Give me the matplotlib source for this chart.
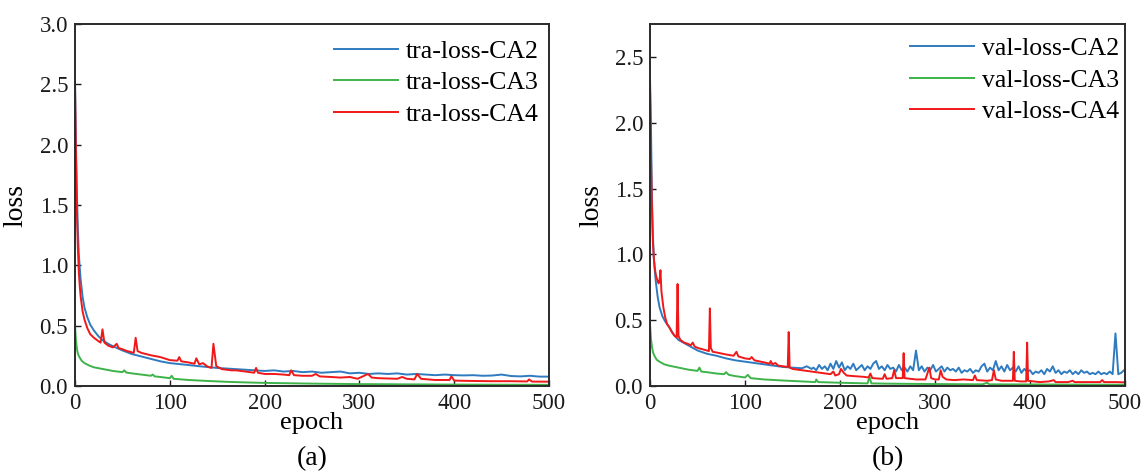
import numpy as np
import matplotlib
matplotlib.use("Agg")
import matplotlib.pyplot as plt

plt.rcParams['font.family'] = ['Liberation Serif', 'DejaVu Serif']

# ---------------- data ----------------
# (a) training loss
tra_ca2_ep = [0, 1, 2, 3, 4, 5, 6, 8, 10, 13, 16, 20, 25, 30, 35, 40, 50, 60, 70, 80, 90, 100,
              115, 130, 150, 170, 190, 200, 210, 220, 230, 240, 250, 260, 270, 280, 290, 300,
              310, 320, 330, 340, 350, 360, 370, 380, 390, 400, 410, 420, 430, 440, 450, 460,
              470, 480, 490, 500]
tra_ca2 = [2.55, 2.0, 1.6, 1.3, 1.1, 0.98, 0.88, 0.74, 0.65, 0.57, 0.51, 0.46, 0.41, 0.375, 0.35,
           0.33, 0.295, 0.265, 0.245, 0.225, 0.205, 0.19, 0.178, 0.165, 0.15, 0.14, 0.13, 0.125,
           0.13, 0.12, 0.125, 0.115, 0.12, 0.11, 0.115, 0.12, 0.105, 0.11, 0.10, 0.105, 0.10,
           0.105, 0.095, 0.10, 0.095, 0.09, 0.095, 0.09, 0.088, 0.09, 0.085, 0.087, 0.095, 0.083,
           0.08, 0.085, 0.078, 0.078]

tra_ca3_ep = [0, 1, 2, 3, 4, 5, 7, 10, 15, 20, 30, 40, 50, 52, 54, 60, 70, 80, 82, 84, 90, 100,
              102, 104, 120, 140, 160, 180, 200, 250, 300, 350, 400, 450, 500]
tra_ca3 = [0.50, 0.38, 0.31, 0.27, 0.25, 0.235, 0.21, 0.19, 0.17, 0.155, 0.14, 0.125, 0.115, 0.13,
           0.112, 0.105, 0.095, 0.085, 0.095, 0.08, 0.075, 0.065, 0.085, 0.06, 0.05, 0.042,
           0.035, 0.03, 0.026, 0.02, 0.016, 0.014, 0.012, 0.011, 0.01]

tra_ca4_ep = [0, 1, 2, 3, 4, 5, 6, 8, 10, 13, 16, 20, 25, 27, 29, 31, 35, 40, 44, 46, 50, 55, 62,
              64, 66, 70, 80, 90, 100, 108, 110, 112, 120, 126, 128, 131, 135, 140, 144, 146, 149,
              155, 165, 170, 180, 189, 191, 193, 200, 210, 220, 226, 228, 231, 240, 250, 254, 258,
              270, 280, 290, 298, 305, 309, 313, 320, 340, 345, 350, 358, 361, 365, 380, 395, 397,
              400, 420, 440, 460, 477, 479, 482, 500]
tra_ca4 = [2.5, 1.9, 1.45, 1.15, 0.95, 0.83, 0.74, 0.62, 0.55, 0.48, 0.43, 0.40, 0.37, 0.36, 0.47,
           0.36, 0.335, 0.32, 0.35, 0.315, 0.305, 0.29, 0.275, 0.40, 0.29, 0.275, 0.255, 0.24,
           0.215, 0.21, 0.24, 0.205, 0.195, 0.185, 0.23, 0.18, 0.19, 0.16, 0.15, 0.35, 0.165,
           0.14, 0.13, 0.13, 0.12, 0.11, 0.15, 0.11, 0.10, 0.10, 0.095, 0.09, 0.13, 0.09, 0.085,
           0.085, 0.10, 0.08, 0.075, 0.07, 0.075, 0.06, 0.085, 0.10, 0.07, 0.065, 0.06, 0.075,
           0.06, 0.055, 0.10, 0.06, 0.05, 0.05, 0.08, 0.045, 0.042, 0.04, 0.04, 0.038, 0.055,
           0.037, 0.036]

# (b) validation loss
val_ca2_ep_head = [0, 1, 2, 3, 4, 5, 6, 8, 10, 13, 16, 20, 25, 30, 35, 40, 45, 50, 60, 70, 80, 90,
                   100, 110, 120, 130, 140, 150, 160, 165, 170]
val_ca2_head = [2.34, 1.97, 1.45, 1.15, 0.98, 0.88, 0.80, 0.68, 0.60, 0.53, 0.49, 0.45, 0.39,
                0.35, 0.33, 0.31, 0.29, 0.27, 0.245, 0.23, 0.21, 0.195, 0.185, 0.175, 0.165,
                0.155, 0.145, 0.14, 0.135, 0.15, 0.13]
# noisy tail, every 3rd epoch from 172 to 499
val_ca2_tail = [0.14, 0.12, 0.16, 0.13, 0.15, 0.12, 0.17, 0.13, 0.19, 0.14,
                0.18, 0.12, 0.15, 0.13, 0.17, 0.12, 0.14, 0.16, 0.12, 0.15,
                0.13, 0.17, 0.19, 0.13, 0.15, 0.12, 0.16, 0.13, 0.14, 0.11,
                0.16, 0.12, 0.14, 0.11, 0.15, 0.12, 0.27, 0.12, 0.15, 0.11,
                0.14, 0.12, 0.16, 0.11, 0.13, 0.15, 0.11, 0.14, 0.12, 0.13,
                0.11, 0.14, 0.10, 0.12, 0.11, 0.13, 0.10, 0.12, 0.11, 0.15,
                0.17, 0.11, 0.14, 0.12, 0.19, 0.12, 0.15, 0.11, 0.16, 0.12,
                0.14, 0.11, 0.15, 0.10, 0.13, 0.11, 0.12, 0.09, 0.11, 0.10,
                0.12, 0.09, 0.13, 0.11, 0.15, 0.10, 0.12, 0.09, 0.11, 0.10,
                0.12, 0.09, 0.11, 0.09, 0.12, 0.10, 0.11, 0.09, 0.10, 0.09,
                0.11, 0.09, 0.10, 0.09, 0.11, 0.09, 0.40, 0.09, 0.10, 0.12]

val_ca3_ep = [0, 1, 2, 3, 4, 5, 7, 10, 15, 20, 30, 40, 50, 52, 54, 60, 70, 78, 80, 83, 90, 100,
              103, 106, 120, 140, 160, 174, 175, 177, 200, 229, 231, 233, 250, 300, 350, 355,
              357, 400, 450, 500]
val_ca3 = [0.47, 0.36, 0.30, 0.26, 0.24, 0.225, 0.20, 0.185, 0.165, 0.155, 0.14, 0.125, 0.115,
           0.14, 0.11, 0.105, 0.095, 0.09, 0.105, 0.085, 0.075, 0.065, 0.085, 0.06, 0.05, 0.042,
           0.035, 0.03, 0.05, 0.03, 0.025, 0.02, 0.07, 0.02, 0.018, 0.015, 0.013, 0.025, 0.013,
           0.012, 0.011, 0.01]

val_ca4_ep = [0, 1, 2, 3, 4, 5, 6, 7, 8, 9, 10, 11, 12, 14, 16, 18, 20, 23, 26, 28, 29, 30, 32,
              36, 40, 43, 45, 47, 50, 55, 60, 62, 63, 64, 66, 70, 80, 88, 91, 93, 100, 105, 107,
              110, 120, 126, 127, 129, 132, 135, 140, 145, 146, 147, 150, 160, 170, 180, 190, 193,
              195, 199, 201, 204, 207, 215, 225, 230, 232, 234, 245, 247, 249, 255, 257, 259, 266,
              267, 268, 280, 290, 294, 296, 300, 304, 306, 308, 312, 320, 330, 340, 342, 344, 355,
              360, 362, 364, 370, 380, 382, 383, 384, 390, 396, 397, 398, 410, 420, 425, 427, 440,
              445, 447, 460, 474, 476, 478, 490, 500]
val_ca4 = [2.27, 1.75, 1.35, 1.10, 0.97, 0.90, 0.85, 0.82, 0.80, 0.78, 0.80, 0.88, 0.72, 0.60,
           0.52, 0.47, 0.45, 0.41, 0.38, 0.37, 0.775, 0.38, 0.35, 0.33, 0.32, 0.31, 0.33, 0.30,
           0.29, 0.28, 0.27, 0.265, 0.59, 0.29, 0.26, 0.255, 0.24, 0.23, 0.26, 0.225, 0.21, 0.205,
           0.22, 0.195, 0.18, 0.17, 0.19, 0.165, 0.175, 0.155, 0.15, 0.145, 0.41, 0.14, 0.13,
           0.12, 0.11, 0.10, 0.09, 0.11, 0.08, 0.09, 0.13, 0.10, 0.08, 0.075, 0.07, 0.065, 0.095,
           0.06, 0.055, 0.09, 0.055, 0.06, 0.12, 0.06, 0.06, 0.25, 0.06, 0.05, 0.05, 0.14, 0.06,
           0.05, 0.05, 0.12, 0.07, 0.05, 0.045, 0.05, 0.045, 0.08, 0.045, 0.04, 0.045, 0.12, 0.05,
           0.04, 0.04, 0.04, 0.26, 0.04, 0.035, 0.035, 0.33, 0.04, 0.03, 0.035, 0.045, 0.03, 0.03,
           0.04, 0.03, 0.03, 0.03, 0.045, 0.03, 0.03, 0.028]

tra_labels = ['tra-loss-CA2', 'tra-loss-CA3', 'tra-loss-CA4']
val_labels = ['val-loss-CA2', 'val-loss-CA3', 'val-loss-CA4']
panel_tags = ['(a)', '(b)']
x_ticks = [0, 100, 200, 300, 400, 500]

# ---------------- figure ----------------
C_BLUE = '#2f7bc0'
C_GREEN = '#3db34a'
C_RED = '#f01818'

fig = plt.figure(figsize=(11.45, 4.76), dpi=100)
ax1 = fig.add_axes([0.0655, 0.189, 0.414, 0.7605])
ax2 = fig.add_axes([0.5677, 0.189, 0.4148, 0.7605])

val_ca2_ep = val_ca2_ep_head + list(range(172, 500, 3))
val_ca2 = val_ca2_head + val_ca2_tail

lw = 1.4
ax1.plot(tra_ca2_ep, tra_ca2, color=C_BLUE, lw=lw, label=tra_labels[0])
ax1.plot(tra_ca3_ep, tra_ca3, color=C_GREEN, lw=lw, label=tra_labels[1])
ax1.plot(tra_ca4_ep, tra_ca4, color=C_RED, lw=lw, label=tra_labels[2])

ax2.plot(val_ca2_ep, val_ca2, color=C_BLUE, lw=lw, label=val_labels[0])
ax2.plot(val_ca3_ep, val_ca3, color=C_GREEN, lw=lw, label=val_labels[1])
ax2.plot(val_ca4_ep, val_ca4, color=C_RED, lw=lw, label=val_labels[2])

ax1.set_ylim(0, 3.0)
ax2.set_ylim(0, 2.75)
ax1.set_yticks([0.0, 0.5, 1.0, 1.5, 2.0, 2.5, 3.0])
ax2.set_yticks([0.0, 0.5, 1.0, 1.5, 2.0, 2.5])

for ax, tag, lx, lgx, lgy in [(ax1, panel_tags[0], -0.099, 0.979, 0.956),
                              (ax2, panel_tags[1], -0.095, 0.987, 0.964)]:
    ax.set_xlim(0, 500)
    ax.set_xticks(x_ticks)
    ax.yaxis.set_major_formatter(matplotlib.ticker.FormatStrFormatter('%.1f'))
    ax.tick_params(direction='in', length=4, width=1.0, pad=5, labelsize=16.5,
                   colors='#1a1a1a')
    for s in ax.spines.values():
        s.set_linewidth(1.4)
        s.set_color('#2a2a2a')
    ax.set_xlabel('epoch', fontsize=19)
    ax.xaxis.set_label_coords(0.5, -0.072)
    ax.set_ylabel('loss', fontsize=20)
    ax.yaxis.set_label_coords(lx, 0.5)
    ax.text(0.5, -0.2, tag, transform=ax.transAxes, ha='center', va='center', fontsize=20)
    ax.legend(loc='upper right', bbox_to_anchor=(lgx, lgy), frameon=False, fontsize=18.5,
              borderpad=0, borderaxespad=0, handlelength=2.5, handletextpad=0.3,
              labelspacing=0.33)

fig.savefig('out.png', dpi=100)
